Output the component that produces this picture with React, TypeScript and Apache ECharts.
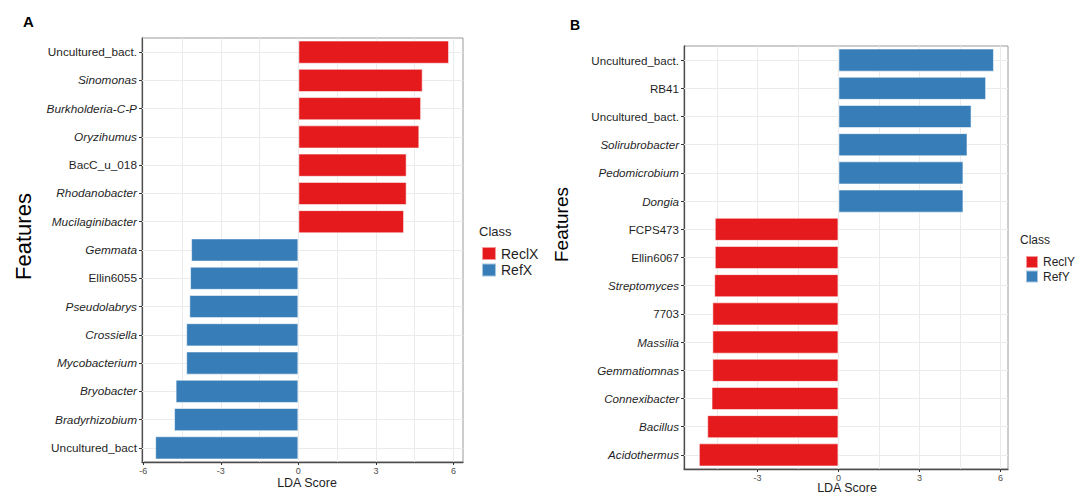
import React, { useEffect, useRef } from "react";
import * as echarts from "echarts";

// Panel A (top to bottom)
const catsA = [
  "Uncultured_bact.", "Sinomonas", "Burkholderia-C-P", "Oryzihumus", "BacC_u_018",
  "Rhodanobacter", "Mucilaginibacter", "Gemmata", "Ellin6055", "Pseudolabrys",
  "Crossiella", "Mycobacterium", "Bryobacter", "Bradyrhizobium", "Uncultured_bact",
];
const redA = [5.83, 4.81, 4.75, 4.68, 4.19, 4.19, 4.09, null, null, null, null, null, null, null, null];
const blueA = [null, null, null, null, null, null, null, -4.15, -4.19, -4.22, -4.34, -4.34, -4.75, -4.81, -5.54];
const plainA = ["Uncultured_bact.", "BacC_u_018", "Ellin6055", "Uncultured_bact"];

// Panel B (top to bottom)
const catsB = [
  "Uncultured_bact.", "RB41", "Uncultured_bact.", "Solirubrobacter", "Pedomicrobium",
  "Dongia", "FCPS473", "Ellin6067", "Streptomyces", "7703", "Massilia",
  "Gemmatiomnas", "Connexibacter", "Bacillus", "Acidothermus",
];
const blueB = [5.76, 5.47, 4.93, 4.78, 4.63, 4.63, null, null, null, null, null, null, null, null, null];
const redB = [null, null, null, null, null, null, -4.58, -4.58, -4.6, -4.67, -4.67, -4.67, -4.7, -4.86, -5.17];
const plainB = ["Uncultured_bact.", "RB41", "FCPS473", "Ellin6067", "7703"];

const ticksA = [-6, -3, 0, 3, 6];
const ticksB = [-3, 0, 3, 6];
const gridXA = [-6, -4.5, -3, -1.5, 0, 1.5, 3, 4.5, 6];
const gridXB = [-4.5, -3, -1.5, 0, 1.5, 3, 4.5, 6];

const RED = "#E41A1C";
const BLUE = "#377EB8";
const GRIDC = "#ebebeb";

function labelFmt(plain: string[]) {
  return (v: string) => (plain.includes(v) ? `{n|${v}}` : `{i|${v}}`);
}

function yAxisFor(grid: number, cats: string[], plain: string[], fs: number) {
  return {
    type: "category",
    gridIndex: grid,
    data: cats,
    inverse: true,
    axisLine: { show: true, onZero: false, lineStyle: { color: "#4d4d4d", width: 1.3 } },
    axisTick: { show: true, alignWithLabel: true, length: 3, lineStyle: { color: "#333" } },
    splitLine: { show: false },
    axisLabel: {
      margin: 5,
      formatter: labelFmt(plain),
      rich: {
        i: { fontStyle: "italic", fontSize: fs, color: "#1f1f1f", fontFamily: "Liberation Sans, Arial, sans-serif" },
        n: { fontSize: fs, color: "#1f1f1f", fontFamily: "Liberation Sans, Arial, sans-serif" },
      },
    },
  };
}

function xAxisFor(grid: number, min: number, max: number, ticks: number[]) {
  return {
    type: "value",
    gridIndex: grid,
    min,
    max,
    splitLine: { show: false },
    axisLine: { show: true, onZero: false, lineStyle: { color: "#4d4d4d", width: 1.3 } },
    axisTick: { show: true, length: 3, customValues: ticks, lineStyle: { color: "#333" } },
    axisLabel: {
      customValues: ticks,
      fontSize: 9,
      color: "#4d4d4d",
      margin: 4,
      fontFamily: "Liberation Sans, Arial, sans-serif",
    },
  };
}

function gridLines(xs: number[], n: number) {
  return {
    silent: true,
    symbol: "none",
    z: 1,
    label: { show: false },
    emphasis: { disabled: true },
    lineStyle: { color: GRIDC, width: 1, type: "solid" },
    data: [
      ...xs.map((v) => ({ xAxis: v })),
      ...Array.from({ length: n }, (_, i) => ({ yAxis: i })),
    ],
  };
}

function barSeries(name: string, data: (number | null)[], color: string, grid: number, stack: string, markLine?: any) {
  return {
    name,
    type: "bar",
    xAxisIndex: grid,
    yAxisIndex: grid,
    stack,
    data,
    barWidth: "82%",
    z: 3,
    itemStyle: { color, borderColor: "rgba(255,255,255,0.55)", borderWidth: 1 },
    ...(markLine ? { markLine } : {}),
  };
}

export default function App() {
  const ref = useRef<HTMLDivElement>(null);
  useEffect(() => {
    if (!ref.current) return;
    const chart = echarts.init(ref.current, null, { renderer: "svg" });
    const font = "Liberation Sans, Arial, sans-serif";
    chart.setOption({
      animation: false,
      backgroundColor: "#ffffff",
      textStyle: { fontFamily: font },
      grid: [
        { left: 142, top: 38, width: 321, height: 424, show: true, borderColor: "#9a9a9a", borderWidth: 1, backgroundColor: "transparent" },
        { left: 684, top: 46, width: 324, height: 423, show: true, borderColor: "#9a9a9a", borderWidth: 1, backgroundColor: "transparent" },
      ],
      xAxis: [xAxisFor(0, -6.05, 6.37, ticksA), xAxisFor(1, -5.72, 6.28, ticksB)],
      yAxis: [yAxisFor(0, catsA, plainA, 11.8), yAxisFor(1, catsB, plainB, 11.6)],
      legend: [
        {
          data: ["ReclX", "RefX"],
          orient: "vertical",
          left: 476,
          top: 241,
          itemWidth: 14,
          itemHeight: 13,
          itemGap: 1.5,
          icon: "rect",
          selectedMode: false,
          textStyle: { fontSize: 14, lineHeight: 13, color: "#1f1f1f", fontFamily: font },
        },
        {
          data: ["ReclY", "RefY"],
          orient: "vertical",
          left: 1020,
          top: 250,
          itemWidth: 12,
          itemHeight: 12,
          itemGap: 0.5,
          icon: "rect",
          selectedMode: false,
          textStyle: { fontSize: 12, lineHeight: 12, color: "#1f1f1f", fontFamily: font },
        },
      ],
      graphic: [
        { type: "text", x: 23, y: 21.5, style: { text: "A", fontSize: 15, fontWeight: "bold", fill: "#000", textVerticalAlign: "middle", fontFamily: font } },
        { type: "text", x: 570, y: 25, style: { text: "B", fontSize: 14, fontWeight: "bold", fill: "#000", textVerticalAlign: "middle", fontFamily: font } },
        { type: "text", x: 23.5, y: 236.5, rotation: Math.PI / 2, style: { text: "Features", fontSize: 22, fill: "#000", textAlign: "center", textVerticalAlign: "middle", fontFamily: font } },
        { type: "text", x: 561.5, y: 224.5, rotation: Math.PI / 2, style: { text: "Features", fontSize: 19, fill: "#000", textAlign: "center", textVerticalAlign: "middle", fontFamily: font } },
        { type: "text", x: 307, y: 483, style: { text: "LDA Score", fontSize: 12.5, fill: "#1f1f1f", textAlign: "center", textVerticalAlign: "middle", fontFamily: font } },
        { type: "text", x: 847, y: 487.5, style: { text: "LDA Score", fontSize: 12.5, fill: "#1f1f1f", textAlign: "center", textVerticalAlign: "middle", fontFamily: font } },
        { type: "text", x: 479, y: 231, style: { text: "Class", fontSize: 13, fill: "#1f1f1f", textVerticalAlign: "middle", fontFamily: font } },
        { type: "text", x: 1020, y: 239.5, style: { text: "Class", fontSize: 12, fill: "#1f1f1f", textVerticalAlign: "middle", fontFamily: font } },
      ],
      series: [
        barSeries("ReclX", redA, RED, 0, "A", gridLines(gridXA, catsA.length)),
        barSeries("RefX", blueA, BLUE, 0, "A"),
        barSeries("ReclY", redB, RED, 1, "B", gridLines(gridXB, catsB.length)),
        barSeries("RefY", blueB, BLUE, 1, "B"),
      ],
    });
    return () => chart.dispose();
  }, []);
  return <div ref={ref} style={{ position: "absolute", left: 0, top: 0, width: 1077, height: 493 }} />;
}
